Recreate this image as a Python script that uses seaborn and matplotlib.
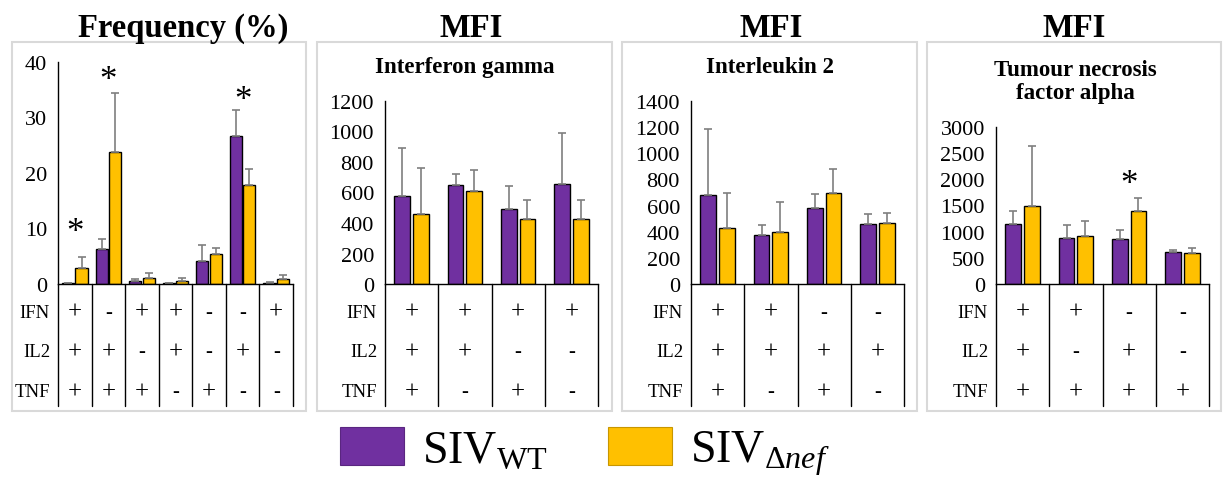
import matplotlib
matplotlib.use("Agg")
import matplotlib.pyplot as plt
import matplotlib.patches as mpatches
import matplotlib.transforms as mtransforms
import pandas as pd
import seaborn as sns

sns.set_style("white")
plt.rcParams["font.family"] = ["Liberation Serif", "DejaVu Serif"]
plt.rcParams["mathtext.fontset"] = "custom"
plt.rcParams["mathtext.rm"] = "Liberation Serif"
plt.rcParams["mathtext.it"] = "Liberation Serif:italic"
for key in ["text.color", "axes.labelcolor", "xtick.color", "ytick.color"]:
    plt.rcParams[key] = "black"

STRAINS = ["WT", "nef"]
COLORS = {"WT": "#7030A0", "nef": "#FFC000"}
ROWS = ["IFN", "IL2", "TNF"]

# panel 1: frequency (%)
freq_ifn = ["+", "-", "+", "+", "-", "-", "+"]
freq_il2 = ["+", "+", "-", "+", "-", "+", "-"]
freq_tnf = ["+", "+", "+", "-", "+", "-", "-"]
freq_wt = [0.15, 6.3, 0.5, 0.1, 4.2, 26.6, 0.15]
freq_wt_err = [0.1, 1.8, 0.4, 0.05, 2.9, 4.8, 0.15]
freq_nef = [2.8, 23.7, 1.1, 0.5, 5.4, 17.9, 0.85]
freq_nef_err = [2.1, 10.8, 0.8, 0.5, 1.0, 2.8, 0.75]
freq_stars = [9.3, 36.6, None, None, None, 33.0, None]

# panel 2: MFI interferon gamma
ifng_ifn = ["+", "+", "+", "+"]
ifng_il2 = ["+", "+", "-", "-"]
ifng_tnf = ["+", "-", "+", "-"]
ifng_wt = [578, 648, 493, 653]
ifng_wt_err = [313, 75, 149, 337]
ifng_nef = [460, 613, 423, 427]
ifng_nef_err = [302, 132, 131, 127]

# panel 3: MFI interleukin 2
il2_ifn = ["+", "+", "-", "-"]
il2_il2 = ["+", "+", "+", "+"]
il2_tnf = ["+", "-", "+", "-"]
il2_wt = [682, 373, 583, 460]
il2_wt_err = [506, 80, 107, 79]
il2_nef = [432, 401, 696, 470]
il2_nef_err = [268, 223, 180, 74]

# panel 4: MFI tumour necrosis factor alpha
tnf_ifn = ["+", "+", "-", "-"]
tnf_il2 = ["+", "-", "+", "-"]
tnf_tnf = ["+", "+", "+", "+"]
tnf_wt = [1149, 874, 862, 613]
tnf_wt_err = [255, 262, 178, 32]
tnf_nef = [1494, 919, 1398, 600]
tnf_nef_err = [1136, 287, 249, 96]
tnf_stars = [None, None, 1902, None]

W, H = 1226, 485
fig = plt.figure(figsize=(W / 100, H / 100), dpi=100)


def fx(px):
    return px / W


def fy(py):
    return 1 - py / H


def draw_panel(left, right, top, signs, wt, wt_err, nef, nef_err, ymax, step,
               width, gap, stars=None):
    zero = 285
    ax = fig.add_axes([fx(left), fy(zero), fx(right - left), (zero - top) / H])
    n = len(wt)
    combos = [f"c{i}" for i in range(n)]
    df = pd.DataFrame({
        "combo": combos * 2,
        "strain": ["WT"] * n + ["nef"] * n,
        "value": wt + nef,
    })
    sns.barplot(data=df, x="combo", y="value", hue="strain", order=combos,
                hue_order=STRAINS, palette=COLORS, saturation=1, width=width,
                gap=gap, edgecolor="black", linewidth=1, errorbar=None,
                legend=False, ax=ax)
    for cont, err in zip(ax.containers, [wt_err, nef_err]):
        xs = [p.get_x() + p.get_width() / 2 for p in cont]
        ys = [p.get_height() for p in cont]
        ax.errorbar(xs, ys, yerr=[[0] * len(err), err], fmt="none",
                    ecolor="#7F7F7F", elinewidth=1.2, capsize=3, capthick=1.2)
    if stars:
        for i, s in enumerate(stars):
            if s is not None:
                ax.text(i, s, "*", ha="center", va="center", fontsize=25)
    ax.set_xlim(-0.5, n - 0.5)
    ax.set_ylim(0, ymax)
    ax.set_yticks(range(0, ymax + 1, step))
    ax.set_xticks([])
    ax.set_xlabel("")
    ax.set_ylabel("")
    ax.tick_params(axis="y", length=0, pad=8, labelsize=16)
    sns.despine(ax=ax)
    for sp in ["left", "bottom"]:
        ax.spines[sp].set_color("black")
        ax.spines[sp].set_linewidth(1)
    ax.patch.set_alpha(0)
    # sign table under the bars
    tr = mtransforms.blended_transform_factory(ax.transData, fig.transFigure)
    for k in range(n + 1):
        ax.plot([k - 0.5, k - 0.5], [fy(zero), fy(407)], transform=tr,
                color="black", lw=1, clip_on=False)
    for r, (name, row) in enumerate(zip(ROWS, signs)):
        y = fy(313 + 40 * r)
        fig.text(fx(left - 8), y, name, ha="right", va="center", fontsize=13.5)
        for i, s in enumerate(row):
            ax.text(i, y, s, transform=tr, ha="center", va="center",
                    fontsize=18 if s == "+" else 15)
    return ax


# grey frames around each panel
for x0, x1 in [(12, 306), (317, 612), (622, 917), (927, 1221)]:
    fig.add_artist(mpatches.Rectangle((fx(x0), fy(412)), fx(x1 - x0), (412 - 43) / H,
                                      transform=fig.transFigure, fill=False,
                                      edgecolor="#D9D9D9", lw=1.5))

draw_panel(58, 293, 63, [freq_ifn, freq_il2, freq_tnf], freq_wt, freq_wt_err,
           freq_nef, freq_nef_err, 40, 10, 0.8, 0.1, freq_stars)
draw_panel(385, 598, 102, [ifng_ifn, ifng_il2, ifng_tnf], ifng_wt, ifng_wt_err,
           ifng_nef, ifng_nef_err, 1200, 200, 0.7, 0.15)
draw_panel(691, 904, 102, [il2_ifn, il2_il2, il2_tnf], il2_wt, il2_wt_err,
           il2_nef, il2_nef_err, 1400, 200, 0.7, 0.15)
draw_panel(996, 1209, 128, [tnf_ifn, tnf_il2, tnf_tnf], tnf_wt, tnf_wt_err,
           tnf_nef, tnf_nef_err, 3000, 500, 0.7, 0.15, tnf_stars)

# titles
fig.text(fx(183), fy(37), "Frequency (%)", ha="center", va="baseline",
         fontsize=23.5, fontweight="bold")
for cx in [471, 771, 1074]:
    fig.text(fx(cx), fy(37), "MFI", ha="center", va="baseline",
             fontsize=23.5, fontweight="bold")
fig.text(fx(465), fy(68), "Interferon gamma", ha="center", va="center",
         fontsize=16.5, fontweight="bold")
fig.text(fx(770), fy(68), "Interleukin 2", ha="center", va="center",
         fontsize=16.5, fontweight="bold")
fig.text(fx(1075), fy(82), "Tumour necrosis\nfactor alpha", ha="center",
         va="center", fontsize=16.5, fontweight="bold", linespacing=1.1)

handles = [mpatches.Patch(facecolor=COLORS["WT"], edgecolor="#5a2680", lw=0.8),
           mpatches.Patch(facecolor=COLORS["nef"], edgecolor="#c89600", lw=0.8)]
fig.legend(handles, [r"SIV$_{\mathrm{WT}}$", r"SIV$_{\Delta\mathit{nef}}$"],
           loc="center", bbox_to_anchor=(fx(585), fy(453)), ncol=2, frameon=False,
           fontsize=33, handlelength=1.4, handleheight=0.92, handletextpad=0.4,
           columnspacing=1.3)

fig.savefig("out.png", dpi=100)
